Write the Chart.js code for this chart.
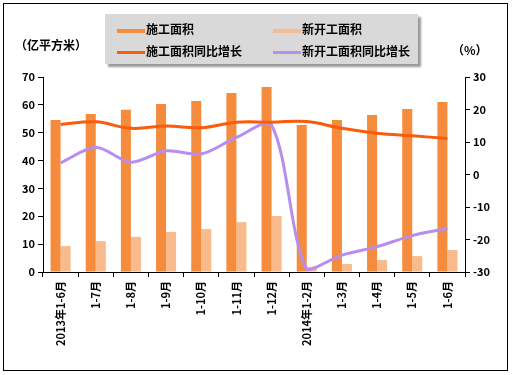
<!DOCTYPE html>
<html>
<head>
<meta charset="utf-8">
<script src="https://cdn.jsdelivr.net/npm/chart.js@4"></script>
<style>
  body { margin: 0; background: #fff; }
  #wrap { position: relative; width: 513px; height: 375px; }
  #frame { position: absolute; left: 3px; top: 3px; width: 505px; height: 368px; border: 1px solid #000; box-sizing: border-box; pointer-events: none; }
  .lbl { position: absolute; font: bold 12px "Noto Sans CJK SC", sans-serif; color: #000; }
  #legend { position: absolute; left: 105px; top: 14px; width: 313px; height: 50px; background: #d9d9d9; box-shadow: 3px 3px 2px #9a9a9a; }
  .item { position: absolute; font: bold 12px "Noto Sans CJK SC", sans-serif; height: 18px; line-height: 18px; }
  .sw { display: inline-block; width: 28px; height: 4px; vertical-align: middle; margin-right: 1px; }
</style>
</head>
<body>
<div id="wrap">
  <canvas id="chart" width="513" height="375"></canvas>
  <div id="frame"></div>
  <div id="legend">
    <div class="item" style="left:12px;top:6px"><span class="sw" style="background:#f58b3c"></span>施工面积</div>
    <div class="item" style="left:168px;top:6px"><span class="sw" style="background:#f9bb8b"></span>新开工面积</div>
    <div class="item" style="left:12px;top:28px"><span class="sw" style="background:#f95c0a;height:3px"></span>施工面积同比增长</div>
    <div class="item" style="left:168px;top:28px"><span class="sw" style="background:#b98cf0;height:3px"></span>新开工面积同比增长</div>
  </div>
  <div class="lbl" style="left:15px;top:36px">（亿平方米）</div>
  <div class="lbl" style="left:452px;top:41px">（%）</div>
</div>
<script>
const categories = ['2013年1-6月', '1-7月', '1-8月', '1-9月', '1-10月', '1-11月', '1-12月',
    '2014年1-2月', '1-3月', '1-4月', '1-5月', '1-6月'];
const constructionArea = [54.6, 56.7, 58.2, 60.3, 61.4, 64.3, 66.4, 52.8, 54.6, 56.4, 58.5, 61.0];
const newStartArea = [9.3, 11.1, 12.6, 14.4, 15.4, 17.9, 20.1, 1.9, 2.9, 4.3, 5.7, 7.9];
const constructionGrowth = [15.4, 16.2, 14.2, 14.9, 14.4, 16.1, 16.1, 16.3, 14.2, 12.7, 11.9, 11.1];
const newStartGrowth = [3.6, 8.4, 3.8, 7.3, 6.3, 11.4, 15.2, -29.2, -24.8, -22.2, -18.8, -16.6];
const leftTicks = [0, 10, 20, 30, 40, 50, 60, 70];
const rightTicks = [-30, -20, -10, 0, 10, 20, 30];

const tickFont = { family: '"Noto Sans CJK SC", sans-serif', size: 11, weight: 'bold' };

const ctx = document.getElementById('chart');

new Chart(ctx, {
    type: 'bar',
    data: {
        labels: categories,
        datasets: [
            {
                type: 'line', label: '施工面积同比增长', data: constructionGrowth, yAxisID: 'y2',
                borderColor: '#f95c0a', borderWidth: 3, tension: 0.4, pointRadius: 0, clip: false, order: 0
            },
            {
                type: 'line', label: '新开工面积同比增长', data: newStartGrowth, yAxisID: 'y2',
                borderColor: '#b98cf0', borderWidth: 3, tension: 0.3, pointRadius: 0, clip: false, order: 0
            },
            {
                label: '施工面积', data: constructionArea, yAxisID: 'y',
                backgroundColor: '#f58b3c', barPercentage: 1, categoryPercentage: 0.57, order: 1
            },
            {
                label: '新开工面积', data: newStartArea, yAxisID: 'y',
                backgroundColor: '#f9bb8b', barPercentage: 1, categoryPercentage: 0.57, order: 1
            }
        ]
    },
    options: {
        responsive: false,
        animation: false,
        layout: { padding: { top: 77, left: 0, right: 0, bottom: 0 } },
        plugins: { legend: { display: false }, tooltip: { enabled: false } },
        scales: {
            x: {
                grid: { drawOnChartArea: false, color: '#000', tickLength: 5, offset: true },
                border: { color: '#000', width: 1 },
                ticks: { color: '#000', font: tickFont, minRotation: 90, maxRotation: 90, autoSkip: false, padding: 4 },
                afterFit: (s) => { s.height = 103; }
            },
            y: {
                position: 'left', min: 0, max: 70,
                afterBuildTicks: (s) => { s.ticks = leftTicks.map(v => ({ value: v })); },
                grid: { drawOnChartArea: false, color: '#000', tickLength: 5 },
                border: { color: '#000', width: 1 },
                ticks: { color: '#000', font: tickFont, padding: 3 },
                afterFit: (s) => { s.width = 43; }
            },
            y2: {
                position: 'right', min: -30, max: 30,
                afterBuildTicks: (s) => { s.ticks = rightTicks.map(v => ({ value: v })); },
                grid: { drawOnChartArea: false, color: '#000', tickLength: 5 },
                border: { color: '#000', width: 1 },
                ticks: { color: '#000', font: tickFont, padding: 3 },
                afterFit: (s) => { s.width = 48; }
            }
        }
    }
});
</script>
</body>
</html>
